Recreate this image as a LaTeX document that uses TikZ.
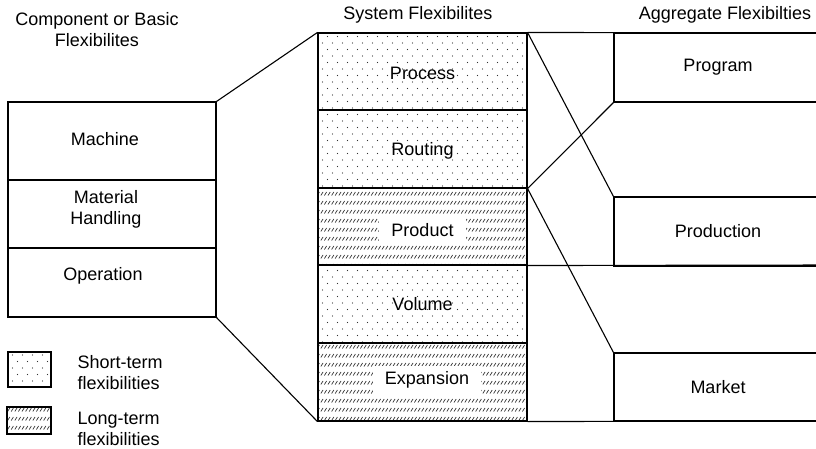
\documentclass[tikz,border=0pt]{standalone}
\usepackage{fontspec}
\setmainfont{Liberation Sans}
\usetikzlibrary{patterns}

% fine staggered dots for short-term flexibilities
\pgfdeclarepatternformonly{sdots}{\pgfqpoint{-1pt}{-1pt}}{\pgfqpoint{11pt}{14pt}}{\pgfqpoint{10pt}{13pt}}{%
  \pgfpathcircle{\pgfqpoint{2.5pt}{3pt}}{0.6pt}%
  \pgfpathcircle{\pgfqpoint{7.5pt}{9.5pt}}{0.6pt}%
  \pgfusepath{fill}}
% rows of short slanted strokes for long-term flexibilities
\pgfdeclarepatternformonly{shatch}{\pgfqpoint{-1pt}{-1pt}}{\pgfqpoint{4.6pt}{10pt}}{\pgfqpoint{3.6pt}{9pt}}{%
  \pgfsetlinewidth{0.7pt}%
  \pgfpathmoveto{\pgfqpoint{0.4pt}{1.5pt}}%
  \pgfpathlineto{\pgfqpoint{2.6pt}{5pt}}%
  \pgfusepath{stroke}}

\begin{document}
\begin{tikzpicture}[x=1pt,y=-1pt,
  font=\fontsize{18}{21}\selectfont,
  line width=1.1pt,
  cell/.style={draw, rectangle, inner sep=0pt},
  leftcell/.style={cell, minimum width=208pt},
  midcell/.style={cell, minimum width=209pt},
  rightcell/.style={cell, minimum width=208pt},
  shortterm/.style={pattern=sdots, pattern color=black!80},
  longterm/.style={pattern=shatch, pattern color=black!80},
  txt/.style={inner sep=0pt, align=center},
  cover/.style={fill=white, inner xsep=12pt, inner ysep=6pt},
  link/.style={draw, line width=1.1pt}]
\useasboundingbox (0,0) rectangle (816,449);

% column headings
\node[txt] (hcomp) at (97,30) {Component or Basic\\Flexibilites};
\node[txt] (hsys) at (418,15) {System Flexibilites};
\node[txt] (hagg) at (725,15) {Aggregate Flexibilties};

% component flexibilities
\node[leftcell, minimum height=78pt] (machine) at (112,141) {};
\node[leftcell, minimum height=68pt] (mh) at (112,214) {};
\node[leftcell, minimum height=69pt] (oper) at (112,282.5) {};
\node[txt] (tmachine) at (105,139) {Machine};
\node[txt] (tmh) at (106,209) {Material\\Handling};
\node[txt] (toper) at (103,276) {Operation};

% system flexibilities
\node[midcell, shortterm, minimum height=77pt] (process) at (422.5,71.5) {};
\node[midcell, shortterm, minimum height=78pt] (routing) at (422.5,149) {};
\node[midcell, longterm, minimum height=77pt] (product) at (422.5,226.5) {};
\node[midcell, shortterm, minimum height=78pt] (volume) at (422.5,304) {};
\node[midcell, longterm, minimum height=78pt] (expansion) at (422.5,382) {};
\node[txt] (tprocess) at (422.5,73) {Process};
\node[txt] (trouting) at (422.5,151) {Routing};
\node[txt, cover] (tproduct) at (422.5,230) {Product};
\node[txt, cover] (texpansion) at (427,380) {Expansion};
\node[txt] (tvolume) at (422.5,304) {Volume};

% aggregate flexibilities
\node[rightcell, minimum height=69pt] (program) at (718,67.5) {Program};
\node[rightcell, minimum height=69pt] (production) at (718,231.5) {Production};
\node[rightcell, minimum height=68pt] (market) at (718,387) {Market};
\coordinate (rtop) at (830,33);
\coordinate (rmid) at (830,265);
\coordinate (rbot) at (830,421);

% connectors
\draw[link] (machine.north east) -- (process.north west);
\draw[link] (oper.south east) -- (expansion.south west);
\draw[link] (process.north east) -- (rtop);
\draw[link] (product.south east) -- (rmid);
\draw[link] (expansion.south east) -- (rbot);
\draw[link] (process.north east) -- (production.north west);
\draw[link] (routing.south east) -- (program.south west);
\draw[link] (routing.south east) -- (market.north west);

% legend
\node[cell, shortterm, minimum width=43pt, minimum height=35pt] (legshort) at (29.5,369.5) {};
\node[cell, longterm, minimum width=44pt, minimum height=27pt] (leglong) at (29,420.5) {};
\node[txt, align=left, anchor=west] (tlegshort) at (77,372.5) {Short-term\\flexibilities};
\node[txt, align=left, anchor=west] (tleglong) at (77,429) {Long-term\\flexibilities};
\end{tikzpicture}
\end{document}
